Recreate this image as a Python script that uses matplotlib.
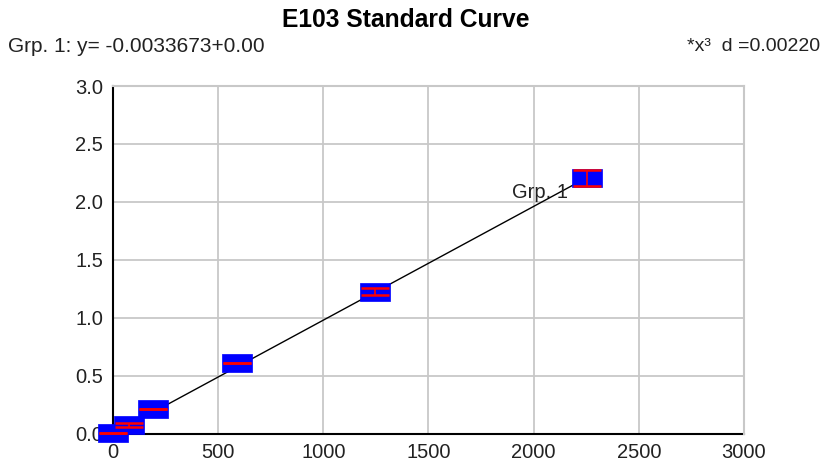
import numpy as np
import matplotlib
matplotlib.use("Agg")
import matplotlib.pyplot as plt

# standard concentrations and absorbance
conc = [0, 74, 190, 592, 1248, 2252]
absb = [0.005, 0.076, 0.209, 0.61, 1.225, 2.206]
err = [0.0, 0.017, 0.0, 0.0, 0.033, 0.07]

intercept = -0.0033673
slope = 0.000982

xticks = [0, 500, 1000, 1500, 2000, 2500, 3000]
yticks = [0.0, 0.5, 1.0, 1.5, 2.0, 2.5, 3.0]

plt.rcParams['font.family'] = ['Liberation Sans', 'DejaVu Sans']

fig = plt.figure(figsize=(8.24, 4.68), dpi=100)
ax = fig.add_axes([0.1371, 0.0737, 0.7658, 0.7425])

xfit = np.array([conc[0], conc[-1]])
ax.plot(xfit, intercept + slope * xfit, color='black', lw=1.0, zorder=2)

box = [(-1, -0.613), (1, -0.613), (1, 0.613), (-1, 0.613), (-1, -0.613)]
ax.plot(conc, absb, ls='none', marker=box, markersize=22.3,
        markerfacecolor='#0000ff', markeredgecolor='#0000ff', markeredgewidth=0.5,
        zorder=3, clip_on=False)
ax.errorbar(conc, absb, yerr=err, fmt='none', ecolor='#ff0000', elinewidth=1.2,
            capsize=10.4, capthick=1.8, zorder=4, clip_on=False)

ax.text(1897, 2.03, "Grp. 1", fontsize=14.5, color='#222222', va='baseline', zorder=5)

ax.set_xlim(0, 3000)
ax.set_ylim(0, 3.0)
ax.set_xticks(xticks)
ax.set_yticks(yticks)
ax.set_yticklabels(["%.1f" % v for v in yticks])
ax.tick_params(length=0, labelsize=14.5, colors='#222222')
ax.tick_params(axis='x', pad=7)
ax.tick_params(axis='y', pad=7)
ax.grid(True, color='#c8c8c8', lw=1.3)
ax.set_axisbelow(True)
for s in ['top', 'right']:
    ax.spines[s].set_color('#c8c8c8')
    ax.spines[s].set_linewidth(1.5)
for s in ['left', 'bottom']:
    ax.spines[s].set_color('black')
    ax.spines[s].set_linewidth(1.5)
    ax.spines[s].set_zorder(1)

fig.text(0.492, 0.958, "E103 Standard Curve", ha='center', va='center',
         fontsize=17.7, fontweight='bold')
fig.text(0.010, 0.900, "Grp. 1: y= -0.0033673+0.00", ha='left', va='center',
         fontsize=15, color='#222222')
fig.text(0.995, 0.900, "*x\u00b3  d =0.00220", ha='right', va='center',
         fontsize=14, color='#222222')

fig.savefig("out.png", dpi=100)
